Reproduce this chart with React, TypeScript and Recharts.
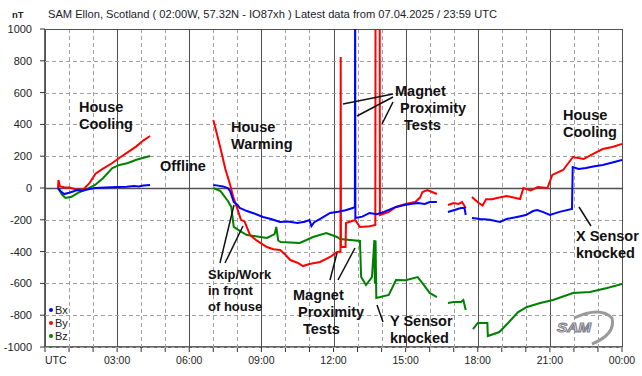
import React from 'react';
import { LineChart, Line, XAxis, YAxis } from 'recharts';

// [hour UTC, nT] ; null = no data (gap)
const bxReadings: [number, number | null][] = [
  [0.54, 0], [0.65, -20], [0.8, -38], [1.0, -30], [1.2, -20], [1.33, -13], [1.5, -18], [1.8, -8], [2.1, 0], [2.5, 3],
  [3.0, 6], [3.4, 8], [3.7, 13], [3.9, 10], [4.1, 16], [4.37, 19],
  [5.5, null],
  [7.0, 19], [7.2, 15], [7.4, 10], [7.6, 0], [7.7, -20], [7.85, -88], [8.0, -105], [8.1, -126], [8.4, -145], [8.7, -160],
  [9.07, -182], [9.4, -195], [9.78, -214], [10.1, -210], [10.5, -220], [10.8, -212], [11.0, -201], [11.08, -240],
  [11.2, -215], [11.5, -190], [11.86, -157], [12.2, -150], [12.5, -140], [12.8, -126], [12.89, -118], [12.9, 1300],
  [12.91, -189], [13.2, -180], [13.5, -157], [13.8, -165], [14.1, -150], [14.6, -119], [15.0, -105], [15.5, -94],
  [15.8, -100], [16.0, -88], [16.3, -88],
  [16.5, null],
  [16.76, -151], [17.0, -140], [17.3, -126], [17.45, -126], [17.5, -170],
  [17.6, null],
  [17.76, -189], [18.1, -195], [18.5, -200], [18.93, -214], [19.2, -195], [19.63, -182], [20.0, -170], [20.3, -145],
  [20.47, -138], [20.7, -150], [21.0, -170], [21.4, -150], [21.92, -132], [21.95, 132], [22.2, 120], [22.5, 126],
  [22.8, 135], [23.2, 145], [23.6, 160], [24, 176],
];

const byReadings: [number, number | null][] = [
  [0.54, -5], [0.56, 50], [0.62, 10], [0.8, 5], [1.0, 3], [1.2, -5], [1.35, -13], [1.6, -8], [1.85, 30], [2.1, 90],
  [2.4, 120], [2.8, 157], [3.1, 190], [3.45, 226], [3.8, 262], [4.1, 300], [4.37, 327],
  [5.5, null],
  [7.0, 428], [7.05, 400], [7.3, 250], [7.5, 120], [7.7, 20], [7.83, -57], [8.0, -130], [8.15, -200], [8.3, -210],
  [8.53, -296], [8.8, -330], [9.23, -371], [9.5, -385], [9.78, -390], [10.0, -420], [10.2, -453], [10.5, -470],
  [10.73, -491], [11.0, -478], [11.44, -465], [11.86, -434], [12.15, -403], [12.29, -400], [12.3, 824], [12.31, -371],
  [12.5, -371], [12.52, -220], [12.9, -201], [13.1, -245], [13.5, -240], [13.74, -233], [13.75, 1300], [13.92, 1300],
  [13.93, -170], [14.3, -150], [14.6, -119], [15.0, -100], [15.4, -88], [15.6, -60], [15.7, -25], [15.9, -13],
  [16.1, -25], [16.3, -38],
  [16.5, null],
  [16.76, -107], [17.0, -95], [17.2, -100], [17.35, -88], [17.5, -126],
  [17.6, null],
  [17.76, -57], [18.0, -90], [18.2, -110], [18.35, -70], [18.6, -70], [18.8, -63], [19.2, -50], [19.76, -69],
  [19.9, 0], [20.2, -15], [20.5, 6], [20.9, 0], [21.1, 82], [21.55, 113], [21.96, 195], [22.4, 182], [22.8, 215],
  [23.2, 245], [23.6, 258], [24, 277],
];

const bzReadings: [number, number | null][] = [
  [0.54, 0], [0.7, -40], [0.85, -63], [1.1, -55], [1.37, -31], [1.7, -10], [2.08, 19], [2.4, 60], [2.8, 126],
  [3.1, 145], [3.45, 157], [3.8, 178], [4.1, 190], [4.37, 201],
  [5.5, null],
  [7.0, 0], [7.3, -20], [7.6, -80], [7.75, -119], [7.85, -245], [8.1, -270], [8.4, -296], [9.23, -314], [9.55, -290],
  [9.62, -245], [9.7, -330], [9.8, -340], [10.6, -346], [11.15, -308], [11.7, -283], [12.15, -308], [12.27, -321],
  [13.1, -333], [13.15, -560], [13.35, -610], [13.6, -560], [13.7, -327], [13.72, -600], [13.75, -330], [13.78, -692],
  [14.3, -673], [14.6, -579], [15.0, -580], [15.5, -560], [15.7, -598], [16.0, -660], [16.3, -686],
  [16.5, null],
  [16.76, -723], [17.0, -717], [17.3, -717], [17.4, -705], [17.5, -767],
  [17.6, null],
  [17.8, -887], [18.0, -849], [18.4, -849], [18.42, -931], [18.9, -906], [19.26, -849], [19.68, -780], [20.05, -748],
  [20.6, -723], [21.13, -704], [21.96, -660], [22.67, -654], [23.38, -629], [24, -604],
];

const hourTicks = Array.from({ length: 25 }, (_, i) => i);
const nTTicks = [-1000, -800, -600, -400, -200, 0, 200, 400, 600, 800, 1000];

const FONT = "'Liberation Sans', Arial, sans-serif";
const W = 642;
const H = 376;
// plot box
const PL = 45;
const PT = 29;
const PW = 577;
const PH = 318;

const toRows = (r: [number, number | null][]) => r.map(([h, v]) => ({ h, v }));
const gx = (h: number) => Math.round(PL + (h / 24) * PW) + 0.5;
const gy = (v: number) => Math.round(PT + ((1000 - v) / 2000) * PH) + 0.5;

const HourTick = (props: any) => {
  const { x, y, payload } = props;
  const h = payload.value as number;
  if (h % 3 !== 0) return <g />;
  const label = h === 0 ? 'UTC' : h === 24 ? '00:00' : `${String(h).padStart(2, '0')}:00`;
  return (
    <text x={x} y={y} dy="0.71em" textAnchor={h === 0 ? 'start' : 'middle'}
      fontSize={10.5} fontFamily={FONT} fill="#222">
      {label}
    </text>
  );
};

const Note = ({ x, y, lines, size = 14.5, gap = 17 }: { x: number[]; y: number; lines: string[]; size?: number; gap?: number }) => (
  <>
    {lines.map((t, i) => (
      <text key={i} x={x[i] ?? x[0]} y={y + i * gap} fontSize={size} fontWeight="bold" fontFamily={FONT}
        fill="#111" dominantBaseline="central">
        {t}
      </text>
    ))}
  </>
);

const Grid = () => (
  <g>
    {hourTicks.map((h) => (
      <line key={`h${h}`} x1={gx(h)} x2={gx(h)} y1={PT} y2={PT + PH}
        stroke={h % 3 === 0 ? '#505050' : '#a0a0a0'} strokeWidth={1}
        strokeDasharray={h % 3 === 0 ? undefined : '4 3'} />
    ))}
    {nTTicks.map((v) => (
      <line key={`v${v}`} x1={PL} x2={PL + PW} y1={gy(v)} y2={gy(v)}
        stroke={v === 0 || v === 1000 ? '#505050' : '#a0a0a0'} strokeWidth={v === 0 ? 1.5 : 1}
        strokeDasharray={v === 0 || v === 1000 ? undefined : '4 3'} />
    ))}
  </g>
);

const layer = { position: 'absolute' as const, left: 0, top: 0 };

export default function App() {
  return (
    <div style={{ ...layer, width: W, height: H, background: '#fff' }} className="samchart">
      <style>{`.samchart .recharts-line{clip-path:none !important;}`}</style>

      {/* axes */}
      <div style={layer}>
        <LineChart width={W} height={H} margin={{ top: PT, right: W - PL - PW, bottom: 0, left: 0 }}>
          <XAxis dataKey="h" type="number" domain={[0, 24]} ticks={hourTicks} allowDataOverflow
            height={H - PT - PH} tickSize={5} tickMargin={5} tick={<HourTick />} interval={0}
            stroke="#333" axisLine={{ stroke: '#333', strokeWidth: 1.5 }} tickLine={{ stroke: '#333' }} />
          <YAxis type="number" domain={[-1000, 1000]} ticks={nTTicks} allowDataOverflow width={PL}
            tickSize={5} tickMargin={8} interval={0}
            tick={{ fontSize: 11, fontFamily: FONT, fill: '#222' }}
            axisLine={{ stroke: '#333', strokeWidth: 1.5 }} tickLine={{ stroke: '#333' }} />
        </LineChart>
      </div>

      {/* grid */}
      <svg width={W} height={H} style={{ ...layer, pointerEvents: 'none' }}>
        <Grid />
      </svg>

      {/* series above the grid */}
      <div style={layer}>
        <LineChart width={W} height={H} margin={{ top: PT, right: W - PL - PW, bottom: H - PT - PH, left: PL }}>
          <XAxis dataKey="h" type="number" domain={[0, 24]} allowDataOverflow hide />
          <YAxis type="number" domain={[-1000, 1000]} allowDataOverflow hide />
          <Line data={toRows(bzReadings)} dataKey="v" stroke="#008000" strokeWidth={2} dot={false}
            type="linear" isAnimationActive={false} connectNulls={false} />
          <Line data={toRows(byReadings)} dataKey="v" stroke="#ff0000" strokeWidth={2} dot={false}
            type="linear" isAnimationActive={false} connectNulls={false} />
          <Line data={toRows(bxReadings)} dataKey="v" stroke="#0000ff" strokeWidth={2} dot={false}
            type="linear" isAnimationActive={false} connectNulls={false} />
        </LineChart>
      </div>

      <svg width={W} height={H} style={{ ...layer, pointerEvents: 'none' }}>
        <text x={12} y={14} fontSize={9.5} fontWeight="bold" fontFamily={FONT} fill="#222" dominantBaseline="central">nT</text>
        <text x={48} y={14} fontSize={11} fontFamily={FONT} fill="#1a1a2a" dominantBaseline="central"
          textLength={449} lengthAdjust="spacingAndGlyphs">
          SAM Ellon, Scotland ( 02:00W, 57.32N - IO87xh ) Latest data from 07.04.2025 / 23:59  UTC
        </text>

        {/* legend */}
        {[['Bx', '#0000ff'], ['By', '#ff0000'], ['Bz', '#008000']].map(([name, c], i) => (
          <g key={name}>
            <circle cx={51} cy={310 + i * 13} r={2} fill={c} />
            <text x={55} y={310 + i * 13} fontSize={11} fontFamily={FONT} fill="#222" dominantBaseline="central">{name}</text>
          </g>
        ))}

        {/* annotations */}
        <Note x={[79]} y={107} lines={['House', 'Cooling']} />
        <Note x={[160]} y={166} lines={['Offline']} />
        <Note x={[231]} y={127} lines={['House', 'Warming']} />
        <Note x={[395, 400, 404]} y={91} lines={['Magnet', 'Proximity', 'Tests']} />
        <Note x={[208]} y={274} lines={['Skip/Work', 'in front', 'of house']} size={13} gap={16} />
        <Note x={[293, 298, 303]} y={295} lines={['Magnet', 'Proximity', 'Tests']} />
        <Note x={[390]} y={321} lines={['Y Sensor', 'knocked']} />
        <Note x={[563]} y={115} lines={['House', 'Cooling']} />
        <Note x={[576]} y={236} lines={['X Sensor', 'knocked']} />

        <g stroke="#111" strokeWidth={1.5}>
          <line x1={343} y1={104} x2={393} y2={94} />
          <line x1={357} y1={116} x2={393} y2={97} />
          <line x1={382} y1={124} x2={393} y2={102} />
          <line x1={220} y1={263} x2={234} y2={205} />
          <line x1={225} y1={263} x2={243} y2={226} />
          <line x1={330} y1={280} x2={337} y2={253} />
          <line x1={338} y1={280} x2={355} y2={248} />
          <line x1={377} y1={305} x2={383} y2={322} />
          <line x1={579} y1={207} x2={591} y2={226} />
        </g>

        {/* SAM logo */}
        <path d="M 574 318 Q 600 306 612 318 Q 616 334 592 344" fill="none" stroke="#9a9a9a" strokeWidth={3} />
        <text x={557} y={327} fontSize={13} fontStyle="italic" fontWeight="bold" fontFamily={FONT}
          fill="#fff" stroke="#7a7a8a" strokeWidth={1} dominantBaseline="central" textLength={34} lengthAdjust="spacingAndGlyphs">SAM</text>
      </svg>
    </div>
  );
}
